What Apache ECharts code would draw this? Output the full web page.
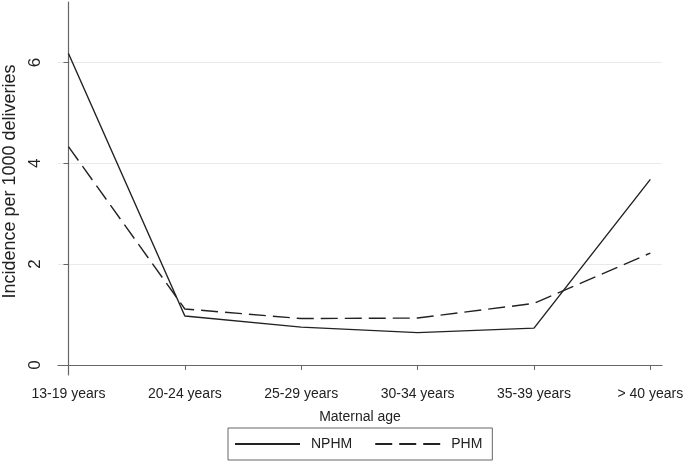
<!DOCTYPE html>
<html><head><meta charset="utf-8">
<script src="https://cdn.jsdelivr.net/npm/echarts@6/dist/echarts.min.js"></script>
<style>html,body{margin:0;padding:0;background:#fff}#c{width:685px;height:463px}</style>
</head><body><div id="c"></div>
<script>
var categories = ['13-19 years','20-24 years','25-29 years','30-34 years','35-39 years','> 40 years'];
var nphm = [6.18, 0.97, 0.75, 0.64, 0.73, 3.68];
var phm = [4.33, 1.11, 0.92, 0.93, 1.22, 2.22];
var yTicks = [0, 2, 4, 6];
var xTicks = [0, 1, 2, 3, 4, 5];

function pairs(v){ return v.map(function(y,i){ return [i,y]; }); }
var font = '"Liberation Sans", Arial, sans-serif';
var chart = echarts.init(document.getElementById('c'), null, {renderer:'canvas'});
chart.setOption({
  animation:false,
  backgroundColor:'#fff',
  grid:{left:58, right:23, top:2, bottom:88, containLabel:false, outerBoundsMode:'none'},
  xAxis:{
    type:'value', min:-0.09, max:5.1,
    name:'Maternal age', nameLocation:'middle', nameGap:35,
    nameTextStyle:{fontFamily:font, fontSize:14, color:'#222'},
    axisLine:{show:true, lineStyle:{color:'#666', width:1.2}},
    axisTick:{show:true, length:5, customValues:xTicks, lineStyle:{color:'#666'}},
    axisLabel:{customValues:xTicks, margin:12, fontFamily:font, fontSize:14, color:'#222', hideOverlap:false,
      formatter:function(v){ return categories[Math.round(v)] || ''; }},
    splitLine:{show:false}
  },
  yAxis:{
    type:'value', min:-0.2, max:7.2,
    name:'Incidence per 1000 deliveries', nameLocation:'middle', nameGap:39,
    nameTextStyle:{fontFamily:font, fontSize:18, color:'#222', padding:[0,0,0,14]},
    axisLine:{show:true, lineStyle:{color:'#666', width:1.2}},
    axisTick:{show:true, length:5, customValues:yTicks, lineStyle:{color:'#666'}},
    axisLabel:{customValues:yTicks, rotate:90, margin:14, fontFamily:font, fontSize:17, color:'#222'},
    splitLine:{show:false}
  },
  legend:{
    left:228, top:428, orient:'horizontal',
    itemWidth:65, itemHeight:14, itemGap:22,
    padding:[9,10,9,6],
    borderColor:'#666', borderWidth:1,
    itemStyle:{color:'transparent', borderWidth:0, opacity:0},
    textStyle:{fontFamily:font, fontSize:14, color:'#222', padding:[0,0,0,6]},
    data:['NPHM','PHM']
  },
  series:[
    {name:'NPHM', type:'line', data:pairs(nphm), symbol:'none', showSymbol:false, silent:true,
     lineStyle:{color:'#222', width:1.4, type:'solid'}, itemStyle:{color:'#222'},
     markLine:{silent:true, symbol:'none', label:{show:false},
       lineStyle:{color:'#eaeaea', width:1, type:'solid'},
       data:yTicks.map(function(t){ return {yAxis:t}; }), z:0}},
    {name:'PHM', type:'line', data:pairs(phm), symbol:'none', showSymbol:false, silent:true,
     lineStyle:{color:'#222', width:1.4, type:[17,7]}, itemStyle:{color:'#222'}}
  ]
});
</script></body></html>
